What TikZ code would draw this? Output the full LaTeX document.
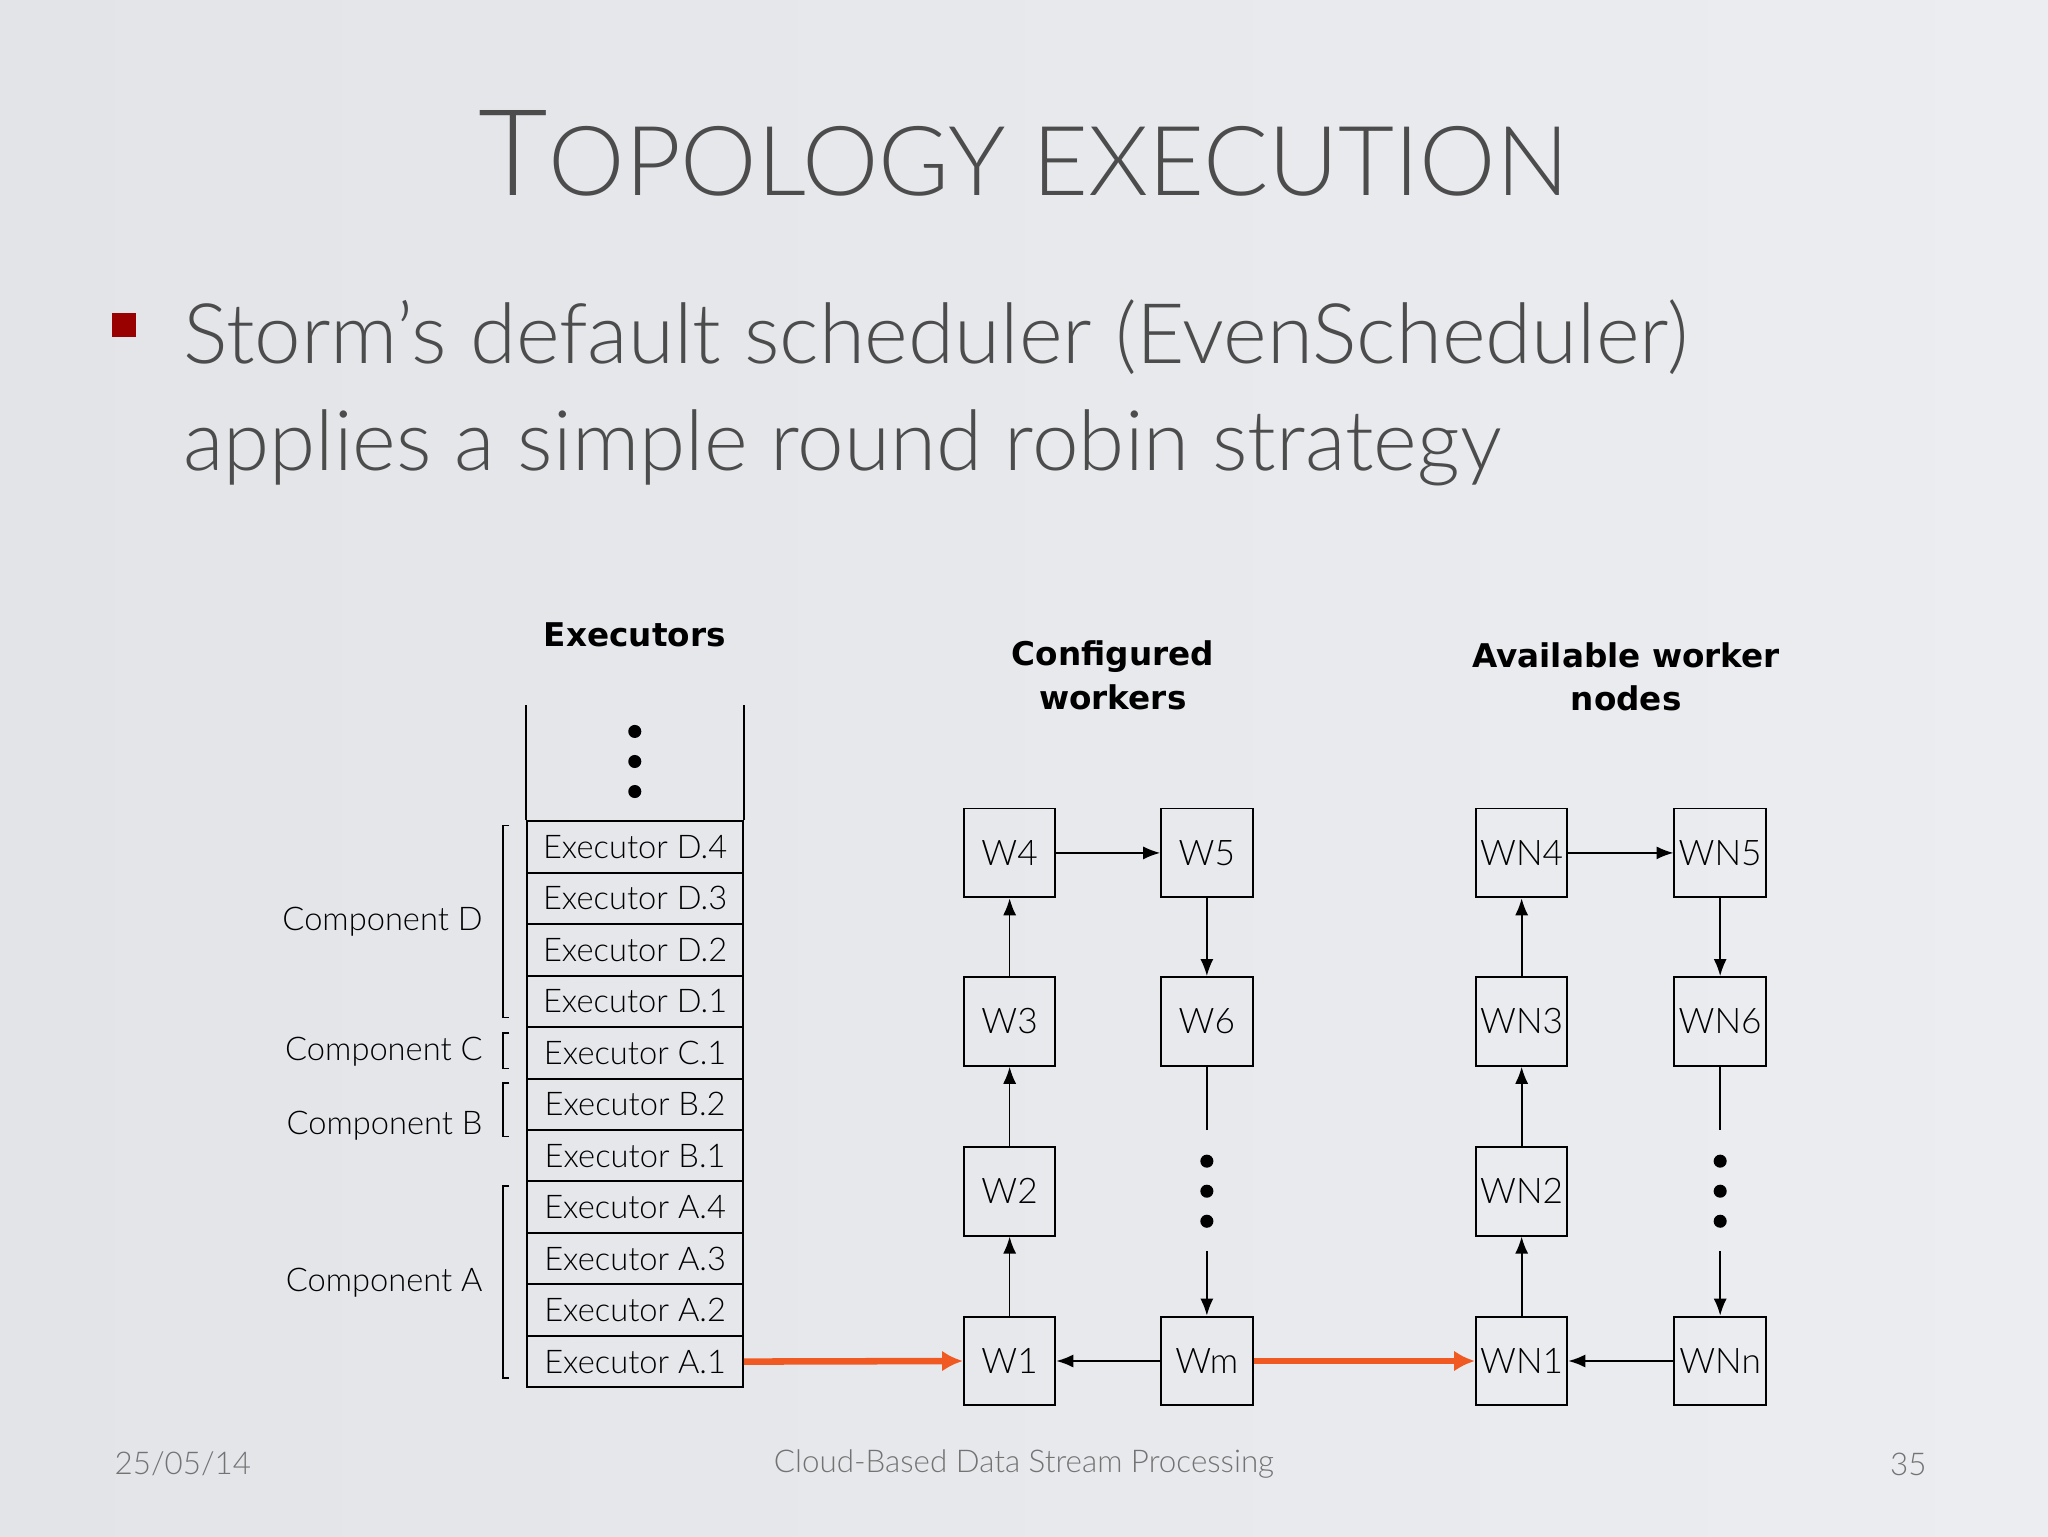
\documentclass[tikz,border=0pt]{standalone}
\usepackage{fontspec}
\setmainfont{Lato}
\newfontfamily\lite{Lato Light}
\newfontfamily\hdr{DejaVu Sans}
\usetikzlibrary{arrows.meta}
\begin{document}
\begin{tikzpicture}[x=1pt,y=-1pt,
 ex/.style={draw,line width=1.5pt,minimum width=165pt,minimum height=39.4pt,inner sep=0pt,font=\lite\fontsize{25}{25}\selectfont,anchor=north west},
 wb/.style={draw,line width=1.5pt,minimum width=70pt,minimum height=68pt,inner sep=0pt,font=\lite\fontsize{27}{27}\selectfont},
 ar/.style={-{Latex[length=13pt,width=10pt]},line width=1.3pt},
 orr/.style={-{Latex[length=16pt,width=16pt]},line width=5pt,draw={rgb,255:red,240;green,90;blue,34}},
 hd/.style={font=\hdr\bfseries\fontsize{25}{33}\selectfont,align=center},
 cl/.style={font=\lite\fontsize{25}{25}\selectfont,anchor=east},
 br/.style={line width=1.2pt},
 ft/.style={font=\lite\fontsize{24}{24}\selectfont,text=black!55}]
\fill[left color={rgb,255:red,226;green,228;blue,232},right color={rgb,255:red,236;green,237;blue,240}] (0,0) rectangle (1568,1176);
\useasboundingbox (0,0) rectangle (1568,1176);
\node[text=black!70,anchor=base,font=\lite] (title) at (784,150) {\fontsize{92}{92}\selectfont T\fontsize{74}{74}\selectfont OPOLOGY EXECUTION};
\fill[red!60!black] (86,240) rectangle (104,258);
\node[anchor=base west,text=black!70,font=\lite\fontsize{64}{64}\selectfont,inner sep=0pt] (l1) at (140,278) {Storm’s default scheduler (EvenScheduler)};
\node[anchor=base west,text=black!70,font=\lite\fontsize{64}{64}\selectfont,inner sep=0pt] (l2) at (140,360) {applies a simple round robin strategy};
\node[hd] (h1) at (486,486) {Executors};
\node[hd] (h2) at (852,517) {Configured\\workers};
\node[hd] (h3) at (1245,518) {Available worker\\nodes};
\foreach \t [count=\i from 0] in {D.4,D.3,D.2,D.1,C.1,B.2,B.1,A.4,A.3,A.2,A.1}
  \node[ex] (e\i) at (403,{628+39.4*\i}) {Executor \t};
\draw[line width=1.5pt] (e0.north west) -- ++(0,-88);
\draw[line width=1.5pt] (e0.north east) -- ++(0,-88);
\foreach \y in {560,583,606} \fill (486,\y) circle (5);
\draw[br] (390,632) -- (385,632) -- (385,779) -- (390,779);
\draw[br] (390,791) -- (385,791) -- (385,818) -- (390,818);
\draw[br] (390,829) -- (385,829) -- (385,870) -- (390,870);
\draw[br] (390,908) -- (385,908) -- (385,1055) -- (390,1055);
\node[cl] (cd) at (373,706) {Component D};
\node[cl] (cc) at (373,805) {Component C};
\node[cl] (cb) at (373,862) {Component B};
\node[cl] (ca) at (373,982) {Component A};
\node[wb] (w4) at (773,653) {W4}; \node[wb] (w5) at (924,653) {W5};
\node[wb] (w3) at (773,782) {W3}; \node[wb] (w6) at (924,782) {W6};
\node[wb] (w2) at (773,912) {W2};
\node[wb] (w1) at (773,1042) {W1}; \node[wb] (wm) at (924,1042) {Wm};
\coordinate (wd1) at (924,865); \coordinate (wd2) at (924,958);
\foreach \y in {889,912,935} \fill (924,\y) circle (5);
\draw[ar] (w1)--(w2); \draw[ar] (w2)--(w3); \draw[ar] (w3)--(w4);
\draw[ar] (w4)--(w5); \draw[ar] (w5)--(w6); \draw[line width=1.3pt] (w6)--(wd1);
\draw[ar] (wd2)--(wm); \draw[ar] (wm)--(w1);
\node[wb] (n4) at (1165,653) {WN4}; \node[wb] (n5) at (1317,653) {WN5};
\node[wb] (n3) at (1165,782) {WN3}; \node[wb] (n6) at (1317,782) {WN6};
\node[wb] (n2) at (1165,912) {WN2};
\node[wb] (n1) at (1165,1042) {WN1}; \node[wb] (nn) at (1317,1042) {WNn};
\coordinate (nd1) at (1317,865); \coordinate (nd2) at (1317,958);
\foreach \y in {889,912,935} \fill (1317,\y) circle (5);
\draw[ar] (n1)--(n2); \draw[ar] (n2)--(n3); \draw[ar] (n3)--(n4);
\draw[ar] (n4)--(n5); \draw[ar] (n5)--(n6); \draw[line width=1.3pt] (n6)--(nd1);
\draw[ar] (nd2)--(nn); \draw[ar] (nn)--(n1);
\draw[orr] (e10.east) -- (w1.west);
\draw[orr] (wm.east) -- (n1.west);
\node[ft] (f1) at (140,1121) {25/05/14};
\node[ft] (f2) at (784,1121) {Cloud-Based Data Stream Processing};
\node[ft] (f3) at (1461,1121) {35};
\end{tikzpicture}
\end{document}
